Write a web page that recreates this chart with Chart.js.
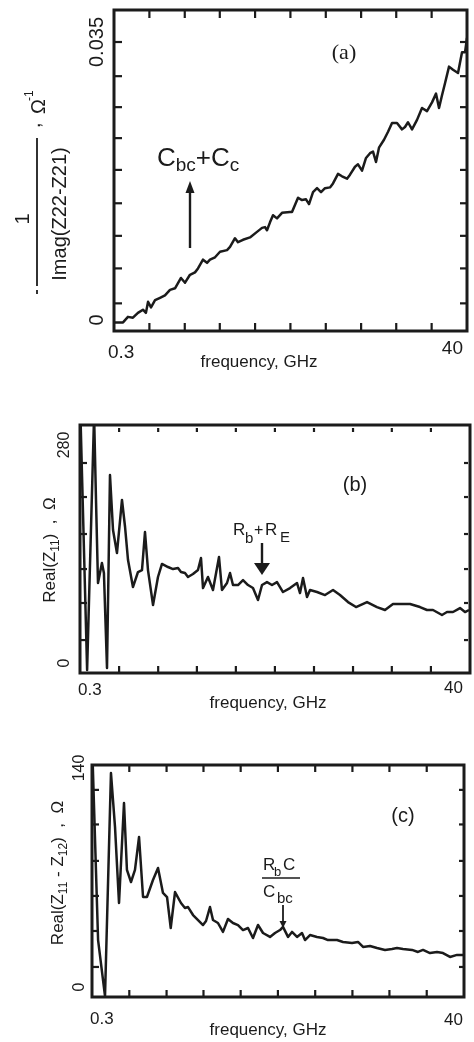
<!DOCTYPE html>
<html>
<head>
<meta charset="utf-8">
<script src="https://cdn.jsdelivr.net/npm/chart.js@4.4.0/dist/chart.umd.min.js"></script>
<style>
  html, body { margin: 0; padding: 0; background: #fff; }
  #wrap { position: relative; width: 474px; height: 1042px; }
  canvas { position: absolute; left: 0; }
</style>
</head>
<body>
<div id="wrap">
  <canvas id="grafikA" width="474" height="380" style="top:0"></canvas>
  <canvas id="grafikB" width="474" height="335" style="top:380px"></canvas>
  <canvas id="grafikC" width="474" height="327" style="top:715px"></canvas>
</div>
<script>
// frekuensi (GHz) dan nilai per panel
const freqA = [0.304, 0.340, 0.364, 0.390, 0.418, 0.448, 0.467, 0.481, 0.501, 0.530,
    0.568, 0.608, 0.652, 0.699, 0.759, 0.803, 0.860, 0.922, 0.961, 1.030,
    1.089, 1.135, 1.217, 1.304, 1.437, 1.498, 1.605, 1.673, 1.793, 1.976,
    2.177, 2.334, 2.433, 2.501, 2.607, 2.718, 2.873, 3.080, 3.440, 3.537,
    3.845, 4.064, 4.295, 4.478, 4.733, 5.003, 5.288, 5.589, 5.990, 6.245,
    6.693, 7.074, 7.582, 7.904, 8.470, 8.830, 9.334, 9.866, 10.43, 10.87,
    11.33, 11.81, 12.66, 13.39, 14.15, 15.16, 16.25, 16.94, 17.66, 18.67,
    20.01, 21.44, 22.98, 24.63, 26.04, 27.14, 28.29, 29.49, 31.18, 32.95,
    35.31, 37.33, 38.92, 40.0];
const invImagA = [-0.0003, -0.0003, 0.0004, 0.0003, 0.0009, 0.0013, 0.0009, 0.0023, 0.0016, 0.0025,
    0.0028, 0.0031, 0.0038, 0.0040, 0.0053, 0.0047, 0.0057, 0.0060, 0.0065, 0.0076,
    0.0072, 0.0076, 0.0079, 0.0086, 0.0088, 0.0092, 0.0103, 0.0098, 0.0101, 0.0104,
    0.0111, 0.0116, 0.0117, 0.0113, 0.0123, 0.0132, 0.0128, 0.0135, 0.0136, 0.0136,
    0.0154, 0.0151, 0.0152, 0.0146, 0.0161, 0.0166, 0.0161, 0.0166, 0.0167, 0.0172,
    0.0184, 0.0181, 0.0178, 0.0183, 0.0193, 0.0196, 0.0188, 0.0204, 0.0210, 0.0212,
    0.0199, 0.0217, 0.0227, 0.0237, 0.0248, 0.0248, 0.0240, 0.0243, 0.0249, 0.0240,
    0.0252, 0.0267, 0.0263, 0.0274, 0.0285, 0.0267, 0.0283, 0.0298, 0.0319, 0.0315,
    0.0311, 0.0337, 0.0337, 0.0355];

const freqB = [0.300, 0.328, 0.358, 0.367, 0.376, 0.395, 0.405, 0.421, 0.437, 0.454,
    0.477, 0.508, 0.528, 0.548, 0.583, 0.621, 0.653, 0.678, 0.704, 0.750,
    0.798, 0.839, 0.905, 0.964, 1.026, 1.065, 1.120, 1.163, 1.238, 1.318,
    1.369, 1.404, 1.494, 1.591, 1.716, 1.781, 1.897, 1.970, 2.045, 2.178,
    2.319, 2.469, 2.628, 2.799, 2.943, 3.133, 3.336, 3.552, 3.830, 4.182,
    4.566, 4.741, 4.923, 5.176, 5.375, 5.867, 6.488, 7.173, 7.830, 8.657,
    9.571, 10.99, 12.45, 13.77, 15.22, 17.26, 18.85, 21.36, 23.32, 25.15,
    28.15, 29.97, 32.32, 35.29, 37.57, 39.51];
const realZ11 = [340, -9, 318, 205.5, 102.8, 128.4, 115.6, -6.4, 241.5, 170.8,
    141.3, 209.4, 174.7, 132.3, 97.6, 116.9, 119.4, 168.3, 119.4, 74.5,
    110.5, 127.2, 123.3, 120.7, 122.0, 116.9, 115.6, 110.5, 114.3, 119.4,
    134.9, 96.3, 110.5, 93.8, 136.1, 93.8, 102.8, 115.6, 100.2, 100.2,
    106.6, 100.2, 96.3, 80.9, 100.2, 104.0, 100.2, 104.0, 91.2, 96.3,
    102.8, 89.9, 109.2, 84.8, 93.8, 91.2, 87.3, 93.8, 87.3, 78.3,
    71.9, 78.3, 71.9, 68.1, 75.8, 75.8, 75.8, 71.9, 68.1, 68.1,
    61.7, 65.5, 65.5, 70.6, 65.5, 68.1];

const freqC = [0.300, 0.325, 0.356, 0.385, 0.406, 0.428, 0.457, 0.475, 0.501, 0.528,
    0.557, 0.587, 0.618, 0.669, 0.715, 0.763, 0.805, 0.845, 0.894, 0.967,
    1.019, 1.061, 1.133, 1.210, 1.292, 1.344, 1.416, 1.473, 1.573, 1.680,
    1.794, 1.916, 2.047, 2.186, 2.335, 2.493, 2.663, 2.844, 3.118, 3.330,
    3.557, 3.700, 3.952, 4.165, 4.448, 4.750, 4.942, 5.278, 5.786, 6.261,
    6.687, 7.527, 8.146, 9.170, 9.923, 10.60, 11.62, 12.74, 14.15, 15.52,
    16.57, 17.93, 20.19, 21.84, 23.33, 25.58, 28.05, 30.35, 33.27, 36.49, 40.0];
const realZ11minZ12 = [157.9, 30.0, -5.8, 136.8, 102.3, 53.7, 117.6, 74.8, 67.1, 74.8,
    95.9, 57.5, 57.5, 68.4, 76.1, 60.1, 57.5, 37.7, 60.7, 53.7,
    50.5, 51.1, 46.0, 42.8, 39.6, 42.2, 51.1, 42.8, 40.9, 35.2,
    43.5, 40.9, 39.6, 36.4, 37.7, 31.3, 39.6, 34.5, 32.0, 34.5,
    36.4, 38.4, 32.0, 35.2, 32.0, 34.5, 30.0, 33.2, 32.0, 31.3,
    30.0, 30.0, 28.8, 28.1, 28.8, 25.6, 26.2, 24.9, 23.7, 24.3,
    24.9, 24.3, 23.7, 22.4, 23.7, 21.7, 22.4, 21.7, 19.2, 20.5, 20.5];

// tick
const xTickFreq = [0.49, 0.80, 1.30, 2.12, 3.46, 5.65, 9.22, 15.0, 24.5];
const xLabelFreq = [0.3, 40];
const xLabelText = ['0.3', '40'];
const yTickA = [0.0350, 0.0307, 0.0268, 0.0229, 0.0189, 0.0147, 0.0106, 0.0065, 0.0021];
const yTickB = [256.9, 213.2, 165.7, 120.7, 77.1, 29.5];
const yTickC = [126, 103.9, 80.6, 58.2, 35.8, 12.8];
const yLabelA = [0, 0.035], yLabelTextA = ['0', '0.035'];
const yLabelB = [0, 280], yLabelTextB = ['0', '280'];
const yLabelC = [0, 140], yLabelTextC = ['0', '140'];

const INK = '#1b1b1b';
const SANS = '"Liberation Sans", Arial, sans-serif';
const SERIF = '"Liberation Serif", "Times New Roman", serif';

function garis(ctx, x1, y1, x2, y2) {
    ctx.beginPath();
    ctx.moveTo(x1, y1);
    ctx.lineTo(x2, y2);
    ctx.stroke();
}

// panah segitiga, arah: 1 = ke bawah, -1 = ke atas
function kepalaPanah(ctx, x, yUjung, lebar, panjang, arah) {
    ctx.beginPath();
    ctx.moveTo(x, yUjung);
    ctx.lineTo(x - lebar, yUjung - arah * panjang);
    ctx.lineTo(x + lebar, yUjung - arah * panjang);
    ctx.closePath();
    ctx.fill();
}

// teks dengan subscript: [teks, ukuran, geserY]
function tulisRuns(ctx, runs, x, y, tengah) {
    let total = 0;
    runs.forEach(r => { ctx.font = r[1] + 'px ' + SANS; total += ctx.measureText(r[0]).width; });
    let cx = tengah ? x - total / 2 : x;
    ctx.textAlign = 'left';
    ctx.textBaseline = 'alphabetic';
    runs.forEach(r => {
        ctx.font = r[1] + 'px ' + SANS;
        ctx.fillText(r[0], cx, y + r[2]);
        cx += ctx.measureText(r[0]).width;
    });
}

function teks(ctx, s, x, y, font) {
    ctx.font = font;
    ctx.textAlign = 'left';
    ctx.textBaseline = 'alphabetic';
    ctx.fillText(s, x, y);
}

function gambarBingkai(chart, t) {
    const ctx = chart.ctx;
    const a = chart.chartArea;
    const x = chart.scales.x, y = chart.scales.y;
    ctx.save();
    ctx.strokeStyle = INK;
    ctx.fillStyle = INK;
    ctx.lineWidth = 2.2;
    xTickFreq.forEach(v => {
        const px = x.getPixelForValue(v);
        garis(ctx, px, a.bottom, px, a.bottom - t.tb);
        garis(ctx, px, a.top + t.tOff, px, a.top + t.tOff + t.tt);
    });
    t.yTicks.forEach(v => {
        const py = y.getPixelForValue(v);
        garis(ctx, a.left, py, a.left + t.tl, py);
        garis(ctx, a.right - t.rOff, py, a.right - t.rOff - t.tr, py);
    });
    ctx.lineWidth = 3;
    ctx.strokeRect(a.left, a.top, a.right - a.left, a.bottom - a.top);

    // label sumbu x
    ctx.font = t.fs + 'px ' + SANS;
    ctx.textBaseline = 'middle';
    ctx.textAlign = 'left';
    ctx.fillText(xLabelText[0], x.getPixelForValue(xLabelFreq[0]) + t.lx0, a.bottom + t.ly0);
    ctx.textAlign = 'right';
    ctx.fillText(xLabelText[1], x.getPixelForValue(xLabelFreq[1]) + t.lx1, a.bottom + t.ly1);
    ctx.font = '17px ' + SANS;
    ctx.textAlign = 'center';
    ctx.fillText('frequency, GHz', t.judulX, a.bottom + t.judulDy);

    // label sumbu y (diputar)
    t.yLabels.forEach((v, i) => {
        ctx.save();
        ctx.translate(t.ylx, y.getPixelForValue(v));
        ctx.rotate(-Math.PI / 2);
        ctx.font = t.fsy + 'px ' + SANS;
        ctx.textAlign = 'center';
        ctx.textBaseline = 'middle';
        ctx.fillText(t.yTexts[i], 0, 0);
        ctx.restore();
    });

    t.extra(ctx);
    ctx.restore();
}

function buatGrafik(id, freq, nilai, yMin, yMax, t) {
    const ctx = document.getElementById(id).getContext('2d');
    return new Chart(ctx, {
        type: 'line',
        data: {
            datasets: [{
                data: freq.map((f, i) => ({ x: f, y: nilai[i] })),
                borderColor: INK,
                borderWidth: 2.5,
                borderJoinStyle: 'round',
                pointRadius: 0,
                tension: 0,
                fill: false,
                clip: 1
            }]
        },
        options: {
            responsive: false,
            animation: false,
            devicePixelRatio: 1,
            layout: { padding: t.padding },
            plugins: { legend: { display: false }, tooltip: { enabled: false } },
            scales: {
                x: { type: 'logarithmic', min: 0.3, max: 40, display: false },
                y: { type: 'linear', min: yMin, max: yMax, display: false }
            }
        },
        plugins: [{ id: 'bingkai', afterDraw: chart => gambarBingkai(chart, t) }]
    });
}

// Panel (a)
buatGrafik('grafikA', freqA, invImagA, -0.00138, 0.03903, {
    padding: { left: 114, right: 7, top: 10, bottom: 49 },
    tb: 8, tt: 8, tOff: 0, tl: 8, tr: 7, rOff: 0,
    yTicks: yTickA, yLabels: yLabelA, yTexts: yLabelTextA,
    fs: 19, lx0: -6, ly0: 22, lx1: -4, ly1: 18, judulX: 259, judulDy: 31,
    ylx: 97, fsy: 20,
    extra: function(ctx) {
        ctx.font = '22px ' + SERIF;
        ctx.textAlign = 'center';
        ctx.textBaseline = 'middle';
        ctx.fillText('(a)', 344, 53);
        tulisRuns(ctx, [['C', 26, 0], ['bc', 19, 5], ['+C', 26, 0], ['c', 19, 5]], 157, 166, false);
        ctx.lineWidth = 2.4;
        garis(ctx, 190, 248, 190, 190);
        kepalaPanah(ctx, 190, 181, 4.5, 12, -1);
        // judul sumbu y: - 1/Imag(Z22-Z21) , Ω^-1
        ctx.save();
        ctx.translate(0, 214);
        ctx.rotate(-Math.PI / 2);
        ctx.font = '20px ' + SANS;
        ctx.textAlign = 'center';
        ctx.textBaseline = 'alphabetic';
        ctx.fillText('Imag(Z22-Z21)', 0, 66);
        ctx.fillText('1', -5, 29);
        ctx.lineWidth = 1.8;
        garis(ctx, -72, 37, 76, 37);
        garis(ctx, -80, 37, -76, 37);
        teks(ctx, ',', 86, 40, '20px ' + SANS);
        teks(ctx, 'Ω', 100, 45, '20px ' + SANS);
        teks(ctx, '-1', 113, 33, '12px ' + SANS);
        ctx.restore();
    }
});

// Panel (b)
buatGrafik('grafikB', freqB, realZ11, -12.8, 305.7, {
    padding: { left: 80, right: 4, top: 45, bottom: 42 },
    tb: 7, tt: 4, tOff: 3, tl: 7, tr: 4, rOff: 2,
    yTicks: yTickB, yLabels: yLabelB, yTexts: yLabelTextB,
    fs: 17, lx0: -2, ly0: 17, lx1: -7, ly1: 15, judulX: 268, judulDy: 30,
    ylx: 65, fsy: 16,
    extra: function(ctx) {
        ctx.font = '20px ' + SANS;
        ctx.textAlign = 'center';
        ctx.textBaseline = 'middle';
        ctx.fillText('(b)', 355, 105);
        teks(ctx, 'R', 233, 155, '17px ' + SANS);
        teks(ctx, 'b', 245, 163, '15px ' + SANS);
        teks(ctx, '+', 254, 155, '16px ' + SANS);
        teks(ctx, 'R', 265, 155, '17px ' + SANS);
        teks(ctx, 'E', 280, 162, '15px ' + SANS);
        ctx.lineWidth = 2.4;
        garis(ctx, 262, 163, 262, 185);
        kepalaPanah(ctx, 262, 195, 8, 12, 1);
        ctx.save();
        ctx.translate(55, 170);
        ctx.rotate(-Math.PI / 2);
        tulisRuns(ctx, [['Real(Z', 17, 0], ['11', 12, 4], [')  ,  Ω', 17, 0]], 0, 0, true);
        ctx.restore();
    }
});

// Panel (c)
buatGrafik('grafikC', freqC, realZ11minZ12, -6.4, 141.9, {
    padding: { left: 92, right: 10, top: 50, bottom: 45 },
    tb: 7, tt: 7, tOff: 0, tl: 7, tr: 5, rOff: 0,
    yTicks: yTickC, yLabels: yLabelC, yTexts: yLabelTextC,
    fs: 17, lx0: -2, ly0: 22, lx1: -1, ly1: 23, judulX: 268, judulDy: 33,
    ylx: 80, fsy: 16,
    extra: function(ctx) {
        ctx.font = '20px ' + SANS;
        ctx.textAlign = 'center';
        ctx.textBaseline = 'middle';
        ctx.fillText('(c)', 403, 101);
        teks(ctx, 'R', 263, 155, '17px ' + SANS);
        teks(ctx, 'b', 274, 161, '13px ' + SANS);
        teks(ctx, 'C', 283, 155, '17px ' + SANS);
        ctx.lineWidth = 1.6;
        garis(ctx, 262, 163, 300, 163);
        teks(ctx, 'C', 263, 182, '17px ' + SANS);
        teks(ctx, 'bc', 277, 188, '15px ' + SANS);
        ctx.lineWidth = 1.8;
        garis(ctx, 283, 190, 283, 207);
        kepalaPanah(ctx, 283, 213, 3.5, 7, 1);
        ctx.save();
        ctx.translate(63, 158);
        ctx.rotate(-Math.PI / 2);
        tulisRuns(ctx, [['Real(Z', 17, 0], ['11', 12, 4], [' - Z', 17, 0], ['12', 12, 4], [')  ,  Ω', 17, 0]], 0, 0, true);
        ctx.restore();
    }
});
</script>
</body>
</html>
